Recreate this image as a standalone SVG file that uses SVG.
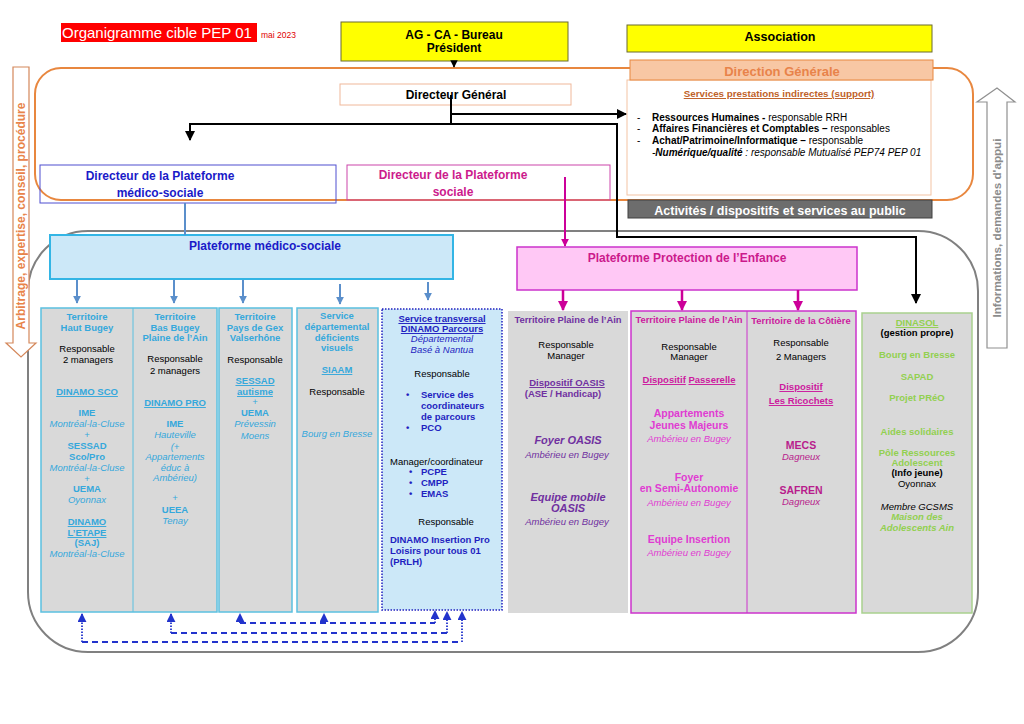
<svg xmlns="http://www.w3.org/2000/svg" width="1024" height="724" viewBox="0 0 1024 724">
<style>
text{font-family:"Liberation Sans",Arial,sans-serif;font-size:9.5px}
.c{text-anchor:middle}
.b{font-weight:bold}
.i{font-style:italic}
.u{text-decoration:underline}
.cy{fill:#35A8DC}
.k{fill:#000}
.pu{fill:#7030A0}
.mg{fill:#CC1A9E}
.mg2{fill:#E03CD2}
.gr{fill:#92D050}
.db{fill:#1F1FC0}
.col{fill:#D9D9D9;stroke:#5BC0E0;stroke-width:1.5}
</style>
<defs>
<marker id="ak" viewBox="0 0 10 10" refX="9" refY="5" markerWidth="5" markerHeight="5" orient="auto"><path d="M0,0L10,5L0,10z" fill="#000"/></marker>
<marker id="ab" viewBox="0 0 10 10" refX="9" refY="5" markerWidth="4" markerHeight="4" orient="auto"><path d="M0,0L10,5L0,10z" fill="#5B8FCB"/></marker>
<marker id="am" viewBox="0 0 10 10" refX="9" refY="5" markerWidth="4" markerHeight="4" orient="auto"><path d="M0,0L10,5L0,10z" fill="#CC0099"/></marker>
<marker id="ad" viewBox="0 0 10 10" refX="9" refY="5" markerWidth="5" markerHeight="5" orient="auto"><path d="M0,0L10,5L0,10z" fill="#2233CC"/></marker>
</defs>
<rect width="1024" height="724" fill="#fff"/>

<!-- background frames -->
<rect x="35" y="68" width="938" height="132" rx="26" fill="none" stroke="#E8873F" stroke-width="2"/>
<rect x="28" y="231" width="950" height="421" rx="60" fill="none" stroke="#808080" stroke-width="2"/>

<!-- side arrows -->
<g id="arrow-left">
<polygon points="13,67 29,67 29,343 36,343 21,357 6,343 13,343" fill="#fff" stroke="#D4875A" stroke-width="1.2"/>
<text transform="translate(25,216) rotate(-90)" class="c b" style="font-size:12px;fill:#E8834A" textLength="227" lengthAdjust="spacingAndGlyphs">Arbitrage, expertise, conseil, procédure</text>
</g>
<g id="arrow-right">
<polygon points="987,348 1007,348 1007,102 1015,102 997,88 977,102 987,102" fill="#fff" stroke="#909090" stroke-width="1.2"/>
<text transform="translate(1001,228) rotate(-90)" class="c b" style="font-size:11.5px;fill:#8C8C8C" textLength="179" lengthAdjust="spacingAndGlyphs">Informations, demandes d'appui</text>
</g>

<g id="title">
<rect x="61" y="23" width="196" height="19" fill="#FF0000"/>
<text x="62" y="38" style="font-size:15px;fill:#fff">Organigramme cible PEP 01</text>
<text x="261" y="38" style="font-size:8.5px;fill:#E00000">mai 2023</text>
</g>

<g id="ag">
<rect x="341" y="22" width="227" height="39" fill="#FFFF00" stroke="#6B6B30" stroke-width="1"/>
<text x="454" y="39" class="c b" style="font-size:12px">AG - CA - Bureau</text>
<text x="454" y="52" class="c b" style="font-size:12px">Président</text>
</g>

<g id="association">
<rect x="627" y="25" width="305" height="27" fill="#FFFF00" stroke="#6B6B30" stroke-width="1"/>
<text x="780" y="41" class="c b" style="font-size:12.5px">Association</text>
</g>

<g id="services">
<rect x="627" y="80" width="304" height="115" fill="#fff" stroke="#F3C3A3" stroke-width="1"/>
<text x="779" y="97" class="c b u" style="font-size:9.8px;fill:#C0622A">Services prestations indirectes (support)</text>
<text x="637" y="121" style="font-size:10px">-</text>
<text x="637" y="132" style="font-size:10px">-</text>
<text x="637" y="144" style="font-size:10px">-</text>
<text x="652" y="121" style="font-size:10px"><tspan class="b">Ressources Humaines - </tspan>responsable RRH</text>
<text x="652" y="132" style="font-size:10px"><tspan class="b">Affaires Financières et Comptables – </tspan>responsables</text>
<text x="652" y="144" style="font-size:10px"><tspan class="b">Achat/Patrimoine/Informatique – </tspan>responsable</text>
<text x="652" y="156" class="i" style="font-size:10px">-<tspan class="b">Numérique/qualité</tspan> : responsable Mutualisé PEP74 PEP 01</text>
</g>

<g id="direction-generale">
<rect x="630" y="60" width="303" height="20" fill="#F8C7A4" stroke="#E8873F" stroke-width="1"/>
<text x="782" y="76" class="c b" style="font-size:13px;fill:#E8834A">Direction Générale</text>
</g>

<g id="activites">
<rect x="628" y="200" width="304" height="18" fill="#6D6D6D" stroke="#404040" stroke-width="1"/>
<text x="780" y="215" class="c b" style="font-size:12.5px;fill:#fff">Activités / dispositifs et services au public</text>
</g>

<g id="directeur-general">
<rect x="340" y="84" width="231" height="21" fill="#fff" stroke="#F0B89A" stroke-width="1"/>
<text x="456" y="99" class="c b" style="font-size:12px">Directeur Général</text>
</g>

<g id="dir-medico">
<rect x="40" y="165" width="296" height="38" fill="none" stroke="#4F4FD0" stroke-width="1"/>
<text x="160" y="180" class="c b" style="font-size:12px;fill:#1A1AC8">Directeur de la Plateforme</text>
<text x="160" y="197" class="c b" style="font-size:12px;fill:#1A1AC8">médico-sociale</text>
</g>

<g id="dir-sociale">
<rect x="347" y="165" width="263" height="35" fill="none" stroke="#CC44AA" stroke-width="1"/>
<text x="453" y="179" class="c b" style="font-size:12px;fill:#CC1A8C">Directeur de la Plateforme</text>
<text x="453" y="196" class="c b" style="font-size:12px;fill:#CC1A8C">sociale</text>
</g>

<g id="plateforme-medico">
<rect x="50" y="235" width="403" height="44" fill="#CCE8F8" stroke="#33B5E5" stroke-width="2"/>
<text x="265" y="250" class="c b" style="font-size:12px;fill:#1A1AC8">Plateforme médico-sociale</text>
</g>

<g id="plateforme-protection">
<rect x="517" y="247" width="340" height="43" fill="#FFC8F5" stroke="#CC33CC" stroke-width="1.5"/>
<text x="687" y="262" class="c b" style="font-size:12px;fill:#CC1A8C">Plateforme Protection de l’Enfance</text>
</g>

<!-- columns -->
<g id="col-haut-bugey">
<rect x="41" y="308" width="176" height="304" class="col"/>
<line x1="133" y1="308" x2="133" y2="612" stroke="#5BC0E0" stroke-width="1"/>
<text x="87" y="320" class="c b cy">Territoire</text>
<text x="87" y="331" class="c b cy">Haut Bugey</text>
<text x="87" y="352" class="c k">Responsable</text>
<text x="88" y="363" class="c k">2 managers</text>
<text x="87" y="395" class="c b u cy">DINAMO SCO</text>
<text x="87" y="416" class="c b cy">IME</text>
<text x="87" y="427" class="c i cy">Montréal-la-Cluse</text>
<text x="87" y="438" class="c cy">+</text>
<text x="87" y="449" class="c b cy">SESSAD</text>
<text x="87" y="460" class="c b cy">Sco/Pro</text>
<text x="87" y="471" class="c i cy">Montréal-la-Cluse</text>
<text x="87" y="482" class="c cy">+</text>
<text x="87" y="492" class="c b cy">UEMA</text>
<text x="87" y="503" class="c i cy">Oyonnax</text>
<text x="87" y="525" class="c b u cy">DINAMO</text>
<text x="87" y="536" class="c b u cy">L’ETAPE</text>
<text x="87" y="546" class="c b cy">(SAJ)</text>
<text x="87" y="557" class="c i cy">Montréal-la-Cluse</text>
</g>

<g id="col-bas-bugey">
<text x="175" y="320" class="c b cy">Territoire</text>
<text x="175" y="331" class="c b cy">Bas Bugey</text>
<text x="175" y="341" class="c b cy">Plaine de l’Ain</text>
<text x="175" y="362" class="c k">Responsable</text>
<text x="175" y="374" class="c k">2 managers</text>
<text x="175" y="406" class="c b u cy">DINAMO PRO </text>
<text x="175" y="427" class="c b cy">IME</text>
<text x="175" y="438" class="c i cy">Hauteville</text>
<text x="175" y="450" class="c i cy">(+</text>
<text x="175" y="460" class="c i cy">Appartements</text>
<text x="175" y="471" class="c i cy">éduc à</text>
<text x="175" y="481" class="c i cy">Ambérieu)</text>
<text x="175" y="501" class="c cy">+</text>
<text x="175" y="513" class="c b cy">UEEA</text>
<text x="175" y="524" class="c i cy">Tenay</text>
</g>

<g id="col-pays-de-gex">
<rect x="219" y="308" width="73" height="304" class="col"/>
<text x="255" y="320" class="c b cy">Territoire</text>
<text x="255" y="331" class="c b cy">Pays de Gex</text>
<text x="255" y="341" class="c b cy">Valserhône</text>
<text x="255" y="363" class="c k">Responsable</text>
<text x="255" y="384" class="c b u cy">SESSAD</text>
<text x="255" y="395" class="c b u cy">autisme</text>
<text x="255" y="405" class="c cy">+</text>
<text x="255" y="416" class="c b cy">UEMA</text>
<text x="255" y="427" class="c i cy">Prévessin</text>
<text x="255" y="439" class="c i cy">Moens</text>
</g>

<g id="col-siaam">
<rect x="297" y="308" width="81" height="304" class="col"/>
<text x="337" y="319" class="c b cy">Service</text>
<text x="337" y="330" class="c b cy">départemental</text>
<text x="337" y="341" class="c b cy">déficients</text>
<text x="337" y="351" class="c b cy">visuels</text>
<text x="337" y="373" class="c b u cy">SIAAM</text>
<text x="337" y="395" class="c k">Responsable</text>
<text x="337" y="437" class="c i cy">Bourg en Bresse</text>
</g>

<g id="col-dinamo">
<rect x="382" y="309" width="120" height="301" fill="#CCE8F8" stroke="#2020C0" stroke-width="1.5" stroke-dasharray="1.5,1.5"/>
<text x="442" y="322" class="c b u db">Service transversal</text>
<text x="442" y="332" class="c b u db">DINAMO Parcours</text>
<text x="442" y="342" class="c i db">Départemental</text>
<text x="442" y="353" class="c i db">Basé à Nantua</text>
<text x="442" y="377" class="c k">Responsable</text>
<text x="406" y="398" class="b db">•</text>
<text x="421" y="398" class="b db">Service des</text>
<text x="421" y="409" class="b db">coordinateurs</text>
<text x="421" y="420" class="b db">de parcours</text>
<text x="406" y="431" class="b db">•</text>
<text x="421" y="431" class="b db">PCO</text>
<text x="390" y="465" class="k">Manager/coordinateur</text>
<text x="409" y="475" class="b db">•</text>
<text x="421" y="475" class="b db">PCPE</text>
<text x="409" y="486" class="b db">•</text>
<text x="421" y="486" class="b db">CMPP</text>
<text x="409" y="497" class="b db">•</text>
<text x="421" y="497" class="b db">EMAS</text>
<text x="446" y="525" class="c k">Responsable</text>
<text x="390" y="543" class="b db">DINAMO Insertion Pro</text>
<text x="390" y="554" class="b db">Loisirs pour tous 01</text>
<text x="390" y="565" class="b db">(PRLH)</text>
</g>

<g id="col-plaine-ain-oasis">
<rect x="508" y="311" width="120" height="302" fill="#D9D9D9"/>
<text x="568" y="323" class="c b pu" style="font-size:9.4px">Territoire Plaine de l’Ain</text>
<text x="566" y="348" class="c k">Responsable</text>
<text x="566" y="359" class="c k">Manager</text>
<text x="567" y="386" class="c b u pu">Dispositif  OASIS</text>
<text x="563" y="397" class="c b pu">(ASE / Handicap)</text>
<text x="568" y="444" class="c b i pu" style="font-size:11px">Foyer OASIS</text>
<text x="567" y="458" class="c i pu">Ambérieu en Bugey</text>
<text x="568" y="501" class="c b i pu" style="font-size:11px">Equipe mobile</text>
<text x="568" y="512" class="c b i pu" style="font-size:11px">OASIS</text>
<text x="567" y="525" class="c i pu">Ambérieu en Bugey</text>
</g>

<g id="col-plaine-ain-passerelle">
<rect x="631" y="311" width="225" height="302" fill="#D9D9D9" stroke="#CC33CC" stroke-width="1.5"/>
<line x1="747" y1="311" x2="747" y2="613" stroke="#CC33CC" stroke-width="1"/>
<text x="689" y="323" class="c b mg" style="font-size:9.4px">Territoire Plaine de l’Ain</text>
<text x="689" y="350" class="c k">Responsable</text>
<text x="689" y="360" class="c k">Manager</text>
<text x="689" y="383" class="c b mg"><tspan class="u">Dispositif</tspan> <tspan class="u">Passerelle</tspan></text>
<text x="689" y="417" class="c b mg2" style="font-size:10.5px">Appartements</text>
<text x="689" y="429" class="c b mg2" style="font-size:10.5px">Jeunes Majeurs</text>
<text x="689" y="442" class="c i mg2">Ambérieu en Bugey</text>
<text x="689" y="481" class="c b mg2" style="font-size:10.5px">Foyer</text>
<text x="689" y="492" class="c b mg2" style="font-size:10.5px">en Semi-Autonomie</text>
<text x="689" y="506" class="c i mg2">Ambérieu en Bugey</text>
<text x="689" y="543" class="c b mg2" style="font-size:10.5px">Equipe Insertion</text>
<text x="689" y="556" class="c i mg2">Ambérieu en Bugey</text>
</g>

<g id="col-cotiere">
<text x="801" y="324" class="c b mg" style="font-size:9.4px">Territoire de la Côtière</text>
<text x="801" y="346" class="c k">Responsable</text>
<text x="801" y="360" class="c k">2 Managers</text>
<text x="801" y="390" class="c b u mg">Dispositif </text>
<text x="801" y="404" class="c b u mg">Les Ricochets</text>
<text x="801" y="449" class="c b" style="font-size:10.5px;fill:#B81C8C">MECS</text>
<text x="801" y="460" class="c i" style="fill:#B81C8C">Dagneux</text>
<text x="801" y="494" class="c b" style="font-size:10.5px;fill:#B81C8C">SAFREN</text>
<text x="801" y="505" class="c i" style="fill:#B81C8C">Dagneux</text>
</g>

<g id="col-dinasol">
<rect x="862" y="313" width="110" height="300" fill="#D9D9D9" stroke="#A9D18E" stroke-width="1.5"/>
<text x="917" y="326" class="c b u gr">DINASOL</text>
<text x="917" y="336" class="c b k">(gestion propre)</text>
<text x="917" y="358" class="c b gr">Bourg en Bresse</text>
<text x="917" y="380" class="c b gr">SAPAD</text>
<text x="917" y="401" class="c b gr">Projet PRéO</text>
<text x="917" y="435" class="c b gr">Aides solidaires</text>
<text x="917" y="456" class="c b gr">Pôle Ressources</text>
<text x="917" y="466" class="c b gr">Adolescent</text>
<text x="917" y="476" class="c b k">(Info jeune)</text>
<text x="917" y="487" class="c k">Oyonnax</text>
<text x="917" y="510" class="c i k">Membre GCSMS</text>
<text x="917" y="520" class="c b i gr">Maison des</text>
<text x="917" y="531" class="c b i gr">Adolescents Ain</text>
</g>

<g id="connectors" fill="none">
<!-- black -->
<line x1="454" y1="61" x2="454" y2="67" stroke="#000" stroke-width="1.5" marker-end="url(#ak)"/>
<polyline points="451,95 451,124" stroke="#000" stroke-width="2"/>
<line x1="451" y1="114" x2="626" y2="114" stroke="#000" stroke-width="2" marker-end="url(#ak)"/>
<polyline points="190,140 190,124 617,124 617,237 916,237 916,303" stroke="#000" stroke-width="2" marker-end="url(#ak)"/>
<line x1="190" y1="125" x2="190" y2="140" stroke="#000" stroke-width="2" marker-end="url(#ak)"/>
<!-- medico -->
<line x1="185" y1="203" x2="185" y2="235" stroke="#5B8FCB" stroke-width="2"/>
<line x1="77" y1="280" x2="77" y2="303" stroke="#5B8FCB" stroke-width="2" marker-end="url(#ab)"/>
<line x1="174" y1="280" x2="174" y2="303" stroke="#5B8FCB" stroke-width="2" marker-end="url(#ab)"/>
<line x1="243" y1="280" x2="243" y2="303" stroke="#5B8FCB" stroke-width="2" marker-end="url(#ab)"/>
<line x1="340" y1="284" x2="340" y2="304" stroke="#5B8FCB" stroke-width="2" marker-end="url(#ab)"/>
<line x1="428" y1="282" x2="428" y2="300" stroke="#5B8FCB" stroke-width="2" marker-end="url(#ab)"/>
<!-- sociale -->
<line x1="565" y1="177" x2="565" y2="246" stroke="#CC0099" stroke-width="2" marker-end="url(#am)"/>
<line x1="563" y1="290" x2="563" y2="310" stroke="#CC0099" stroke-width="2.5" marker-end="url(#am)"/>
<line x1="682" y1="290" x2="682" y2="310" stroke="#CC0099" stroke-width="2.5" marker-end="url(#am)"/>
<line x1="798" y1="290" x2="798" y2="310" stroke="#CC0099" stroke-width="2.5" marker-end="url(#am)"/>
<!-- dashed bottom -->
<g stroke="#2233CC" stroke-width="1.8">
<path d="M82,642H462" stroke-dasharray="6,4"/>
<path d="M171,633H447" stroke-dasharray="6,4"/>
<path d="M240,623H435" stroke-dasharray="6,4"/>
<g stroke-dasharray="1.5,1.5">
<path d="M82,642V614" marker-end="url(#ad)"/>
<path d="M171,633V614" marker-end="url(#ad)"/>
<path d="M240,623V614" marker-end="url(#ad)"/>
<path d="M324,623V614" marker-end="url(#ad)"/>
<path d="M462,642V612" marker-end="url(#ad)"/>
<path d="M447,633V612" marker-end="url(#ad)"/>
<path d="M435,623V611" marker-end="url(#ad)"/>
</g>
</g>
</g>
</svg>
